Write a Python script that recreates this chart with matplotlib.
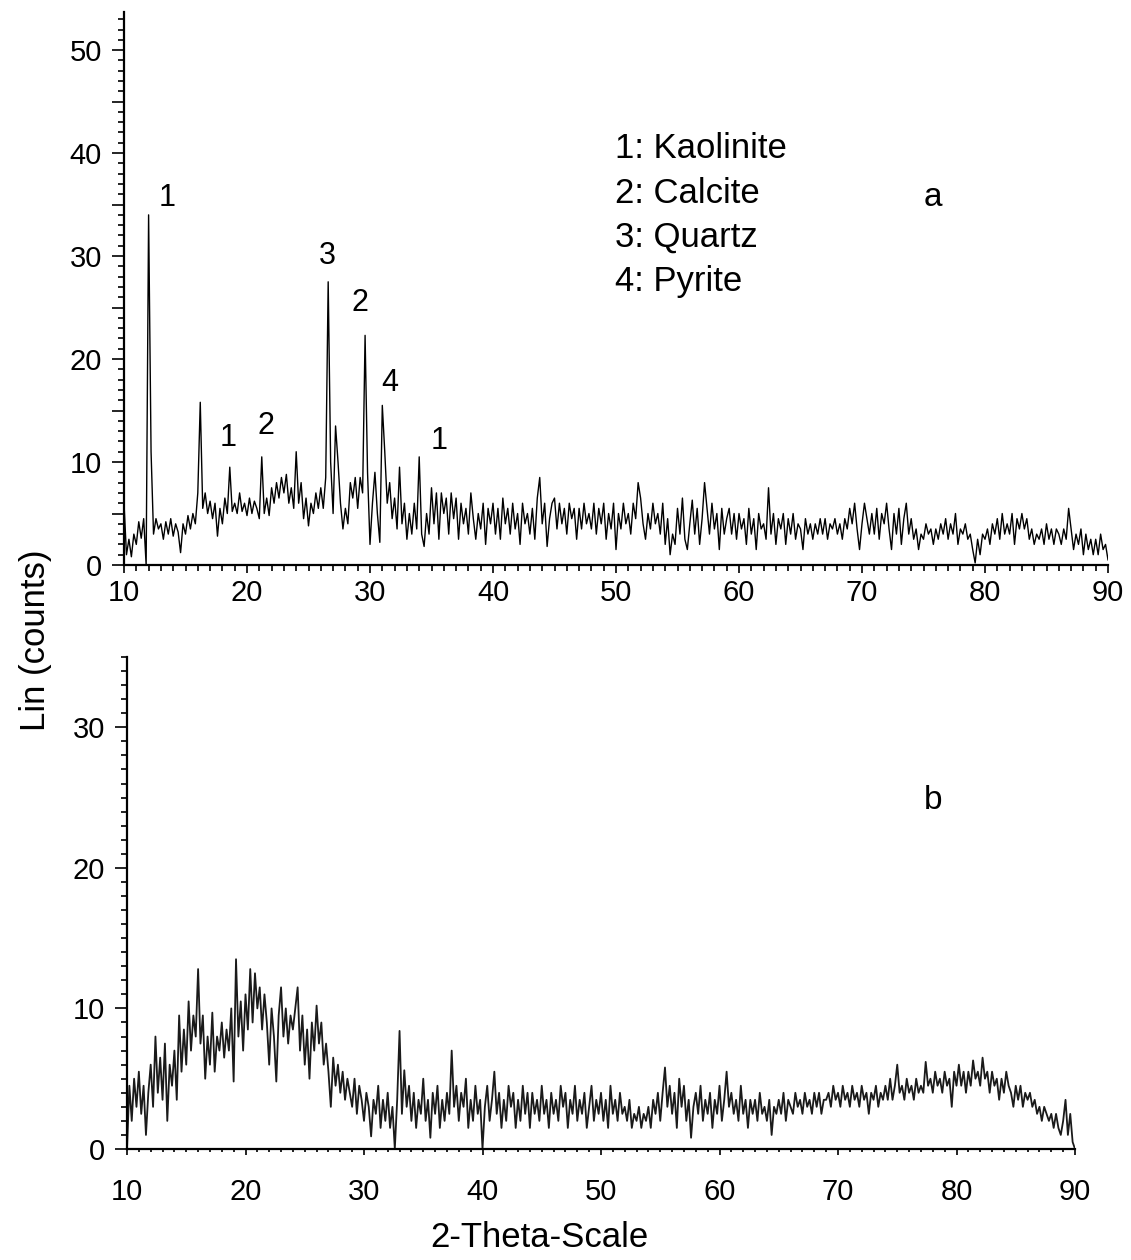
import numpy as np
import matplotlib
matplotlib.use("Agg")
import matplotlib.pyplot as plt
from matplotlib.ticker import MultipleLocator, FuncFormatter

plt.rcParams['font.family'] = ['Liberation Sans', 'DejaVu Sans']

# XRD scans, 10-90 deg 2-theta, one row = one degree (step 0.2)
scan_start = 10.0
scan_step = 0.2

counts_a = [
    6.0, 1.0, 2.5, 0.8, 3.0,
    2.0, 4.2, 2.6, 4.5, 0.0,
    34.0, 11.0, 3.0, 4.5, 3.5,
    4.0, 2.5, 4.2, 3.0, 4.5,
    2.8, 4.0, 3.2, 1.2, 4.0,
    3.0, 4.8, 3.5, 5.0, 4.0,
    7.0, 15.8, 5.5, 7.0, 5.0,
    6.2, 4.5, 6.0, 2.8, 5.5,
    4.0, 6.5, 5.0, 9.5, 5.2,
    6.0, 5.0, 7.0, 5.2, 6.0,
    4.8, 6.5, 5.0, 6.2, 5.5,
    4.5, 10.5, 5.0, 6.5, 4.8,
    7.5, 6.0, 8.0, 6.5, 8.5,
    7.0, 8.8, 6.0, 7.5, 5.5,
    11.0, 6.0, 8.0, 4.5, 6.5,
    3.8, 6.0, 5.0, 7.0, 5.5,
    7.5, 5.5, 8.5, 27.5, 10.0,
    5.0, 13.5, 10.0, 6.0, 3.5,
    5.5, 4.0, 8.0, 6.5, 8.5,
    5.5, 8.5, 7.0, 22.3, 9.0,
    2.0, 6.0, 9.0, 5.0, 2.2,
    15.5, 11.0, 6.0, 8.0, 4.5,
    6.5, 3.5, 9.5, 4.0, 6.0,
    2.5, 5.0, 3.0, 6.0, 3.5,
    10.5, 3.0, 1.8, 5.0, 3.0,
    7.5, 4.0, 7.0, 2.5, 7.0,
    5.0, 6.5, 3.0, 7.0, 4.5,
    6.5, 2.5, 6.0, 4.0, 5.5,
    3.0, 7.0, 4.5, 2.5, 5.0,
    3.5, 6.0, 2.0, 5.5, 4.0,
    6.0, 3.0, 5.5, 2.5, 6.5,
    4.0, 5.5, 3.0, 6.0, 3.5,
    5.0, 2.0, 6.0, 4.0, 5.0,
    3.0, 5.5, 2.5, 6.5, 8.5,
    4.0, 6.0, 1.8, 4.5, 6.0,
    6.5, 3.5, 6.0, 4.0, 5.5,
    3.0, 6.0, 4.5, 5.5, 2.5,
    5.5, 3.5, 6.0, 4.0, 5.0,
    3.5, 6.0, 3.0, 5.5, 4.0,
    6.0, 2.5, 5.0, 3.5, 6.0,
    1.5, 5.0, 3.5, 6.0, 4.0,
    5.0, 3.0, 6.0, 4.5, 8.0,
    6.5, 4.0, 2.5, 5.0, 3.5,
    6.0, 4.0, 5.0, 3.0, 6.0,
    2.0, 4.5, 1.0, 3.0, 2.0,
    5.5, 3.0, 6.5, 2.5, 1.5,
    4.0, 6.3, 3.0, 5.5, 2.0,
    4.5, 8.0, 5.5, 3.0, 6.0,
    3.5, 5.0, 1.5, 5.5, 3.0,
    4.5, 5.5, 3.0, 5.0, 2.5,
    5.0, 3.5, 4.5, 2.0, 5.5,
    3.0, 4.5, 1.5, 5.0, 3.5,
    4.0, 2.5, 7.5, 3.0, 5.0,
    2.0, 4.5, 3.5, 5.0, 2.0,
    4.5, 3.0, 5.0, 2.5, 4.0,
    3.5, 1.5, 4.5, 3.0, 4.0,
    2.5, 4.0, 3.0, 4.5, 3.0,
    4.5, 2.5, 4.0, 3.5, 4.5,
    3.0, 4.0, 2.5, 4.5, 3.5,
    5.5, 4.0, 6.0, 3.5, 1.5,
    4.0, 6.0, 4.5, 3.0, 5.0,
    3.0, 5.5, 2.5, 5.0, 4.0,
    6.0, 3.5, 1.5, 5.0, 3.0,
    5.5, 2.0, 4.5, 6.0, 3.0,
    4.5, 2.5, 3.5, 1.5, 3.0,
    2.5, 4.0, 3.0, 3.5, 2.0,
    3.5, 2.5, 4.0, 3.0, 4.5,
    2.5, 4.0, 3.0, 5.0, 2.0,
    3.5, 3.0, 4.0, 2.5, 3.0,
    1.5, 0.2, 2.5, 1.0, 3.0,
    2.5, 3.5, 2.0, 4.0, 3.0,
    4.5, 2.5, 5.0, 3.0, 4.0,
    3.0, 5.0, 2.0, 4.5, 3.5,
    5.0, 3.5, 4.5, 2.5, 3.5,
    2.0, 3.0, 2.5, 3.5, 2.0,
    4.0, 2.5, 3.5, 2.0, 3.5,
    3.0, 2.0, 3.5, 2.5, 5.5,
    3.5, 1.5, 3.0, 2.0, 3.5,
    1.0, 3.0, 1.5, 2.5, 1.0,
    2.5, 1.0, 3.0, 1.5, 2.0,
    0.5,
]

counts_b = [
    0.0, 4.5, 2.0, 5.0, 3.0,
    5.5, 2.5, 4.5, 1.0, 4.0,
    6.0, 3.0, 8.0, 4.0, 6.5,
    3.5, 7.5, 2.0, 6.0, 4.5,
    7.0, 3.5, 9.5, 5.5, 8.5,
    6.0, 10.5, 7.0, 9.5, 8.0,
    12.8, 7.5, 9.5, 5.0, 8.0,
    6.0, 9.7, 5.5, 8.0, 7.0,
    9.0, 6.5, 8.5, 7.0, 10.0,
    4.8, 13.5, 8.0, 10.5, 7.0,
    11.0, 8.5, 12.8, 9.0, 12.5,
    10.0, 11.5, 8.5, 11.0, 9.0,
    6.0, 10.0, 8.0, 4.8, 9.5,
    11.5, 8.0, 10.0, 7.5, 9.5,
    8.5, 10.0, 11.5, 7.0, 9.5,
    6.0, 8.5, 5.0, 9.0, 7.0,
    10.2, 7.5, 9.0, 6.0, 7.5,
    5.5, 3.0, 6.5, 4.5, 6.0,
    4.0, 5.5, 3.5, 5.0, 4.0,
    3.0, 5.0, 2.5, 4.5, 3.5,
    2.0, 4.0, 3.0, 0.9, 3.5,
    2.5, 4.5, 1.5, 3.5, 2.0,
    4.0, 1.5, 3.0, 0.0, 3.5,
    8.4, 2.5, 5.6, 3.0, 4.5,
    2.0, 4.0, 1.5, 3.5, 2.5,
    5.0, 2.0, 3.5, 0.8, 4.0,
    2.5, 4.5, 1.5, 3.5, 2.0,
    4.0, 2.5, 7.0, 3.0, 4.5,
    2.0, 4.0, 3.0, 5.0, 1.5,
    3.5, 2.0, 4.5, 2.5, 3.5,
    0.0, 3.0, 4.5, 2.0, 3.5,
    5.5, 2.5, 4.0, 1.5, 3.5,
    2.0, 4.5, 3.0, 4.0, 1.5,
    3.5, 2.0, 4.5, 2.5, 4.0,
    1.5, 4.0, 2.5, 3.5, 2.0,
    4.5, 2.5, 3.5, 1.5, 4.0,
    2.5, 3.5, 2.0, 4.5, 3.0,
    4.0, 1.5, 3.5, 2.5, 4.5,
    2.0, 3.5, 2.5, 4.0, 1.5,
    3.0, 4.5, 2.0, 3.5, 2.5,
    4.0, 2.0, 3.5, 1.5, 4.5,
    2.5, 3.5, 2.0, 4.0, 2.5,
    3.0, 2.0, 3.5, 1.5, 2.5,
    2.0, 3.0, 1.5, 2.5, 2.0,
    3.0, 1.5, 3.5, 2.5, 4.0,
    2.0, 4.0, 5.8, 3.0, 4.5,
    2.5, 4.0, 1.5, 5.0, 3.0,
    4.5, 2.0, 3.5, 0.8, 3.0,
    4.0, 2.5, 4.5, 2.0, 3.5,
    2.5, 4.0, 1.5, 3.5, 2.5,
    4.5, 2.0, 3.5, 5.5, 3.0,
    4.0, 2.5, 3.5, 2.0, 4.5,
    2.5, 3.5, 1.5, 3.5, 2.5,
    3.5, 2.0, 4.0, 2.5, 3.0,
    2.0, 3.5, 1.0, 3.0, 2.5,
    3.5, 2.5, 4.0, 2.0, 3.5,
    3.0, 2.5, 4.0, 3.0, 3.5,
    2.5, 4.0, 3.0, 3.5, 2.5,
    4.0, 3.0, 4.0, 2.5, 3.5,
    3.5, 4.0, 3.0, 4.5, 3.5,
    4.0, 3.0, 4.5, 3.5, 4.0,
    3.0, 4.5, 3.5, 4.0, 3.0,
    4.5, 3.5, 4.0, 2.5, 4.0,
    3.5, 4.5, 3.0, 4.0, 3.5,
    4.5, 3.5, 5.0, 3.5, 4.5,
    6.0, 4.0, 4.5, 3.5, 5.0,
    4.0, 4.5, 3.5, 5.0, 4.0,
    4.5, 4.0, 6.2, 4.5, 5.0,
    4.0, 5.5, 4.5, 5.0, 4.0,
    5.5, 4.5, 5.0, 3.0, 5.5,
    4.5, 6.0, 4.5, 5.5, 4.0,
    5.5, 4.5, 6.3, 5.0, 5.5,
    4.5, 6.5, 5.0, 5.5, 4.0,
    5.5, 4.5, 5.0, 3.5, 5.0,
    4.0, 5.5, 4.5, 4.0, 3.0,
    4.5, 3.5, 4.5, 3.0, 4.0,
    3.5, 4.0, 3.0, 3.5, 2.5,
    3.0, 2.0, 3.0, 2.5, 2.0,
    2.5, 1.5, 2.5, 1.5, 1.0,
    2.0, 3.5, 1.0, 2.5, 0.5,
    0.0,
]

# peak labels of pattern a
peak_text = ['1', '3', '2', '4', '1', '2', '1']
peak_x = [13.5, 26.5, 29.2, 31.6, 18.5, 21.5, 35.6]
peak_y = [35.6, 30.0, 25.4, 17.7, 12.3, 13.5, 12.0]

phase_names = ['1: Kaolinite', '2: Calcite', '3: Quartz', '4: Pyrite']
x_ticks = [10, 20, 30, 40, 50, 60, 70, 80, 90]

fig = plt.figure(figsize=(11.31, 12.6), dpi=100)
ax_a = fig.add_axes([124 / 1131, 1 - 565 / 1260, 984 / 1131, 553 / 1260])
ax_b = fig.add_axes([127 / 1131, 1 - 1149 / 1260, 948 / 1131, 492 / 1260])

tt_a = scan_start + scan_step * np.arange(len(counts_a))
tt_b = scan_start + scan_step * np.arange(len(counts_b))

ax_a.plot(tt_a, counts_a, color='black', lw=1.0)
ax_b.plot(tt_b, counts_b, color='#1a1a1a', lw=1.3)

for ax in (ax_a, ax_b):
    ax.spines['top'].set_visible(False)
    ax.spines['right'].set_visible(False)
    ax.spines['left'].set_linewidth(1.6)
    ax.spines['bottom'].set_linewidth(1.6)
    ax.set_xlim(10, 90)
    ax.set_xticks(x_ticks)
    ax.xaxis.set_minor_locator(MultipleLocator(1))
    ax.yaxis.set_minor_locator(MultipleLocator(1))
    ax.tick_params(which='both', direction='out', labelsize=21, width=1.2)
    ax.tick_params(which='minor', length=4)

ax_a.set_ylim(0, 53.7)
ax_a.yaxis.set_major_locator(MultipleLocator(5))
ax_a.yaxis.set_major_formatter(FuncFormatter(lambda v, p: '%d' % v if v % 10 == 0 else ''))
ax_a.tick_params(axis='y', which='major', length=9, pad=7)
ax_a.tick_params(axis='x', which='major', length=6, pad=4)

ax_b.set_ylim(0, 35)
ax_b.set_yticks([0, 10, 20, 30])
ax_b.tick_params(axis='y', which='major', length=9, pad=7)
ax_b.tick_params(axis='x', which='major', length=4, pad=17)
ax_b.tick_params(axis='x', which='minor', length=2)

for t, x, y in zip(peak_text, peak_x, peak_y):
    ax_a.text(x, y, t, fontsize=22, ha='center', va='center')

for i, name in enumerate(phase_names):
    ax_a.text(49.9, 40.4 - i * 4.3, name, fontsize=25, ha='left', va='center')

ax_a.text(75.8, 35.7, 'a', fontsize=24, ha='center', va='center')
ax_b.text(78.0, 24.8, 'b', fontsize=24, ha='center', va='center')

fig.text(0.031, 0.492, 'Lin (counts)', fontsize=25, rotation=90, ha='center', va='center')
fig.text(0.4766, 0.018, '2-Theta-Scale', fontsize=25, ha='center', va='center')

fig.savefig('out.png', dpi=100)
